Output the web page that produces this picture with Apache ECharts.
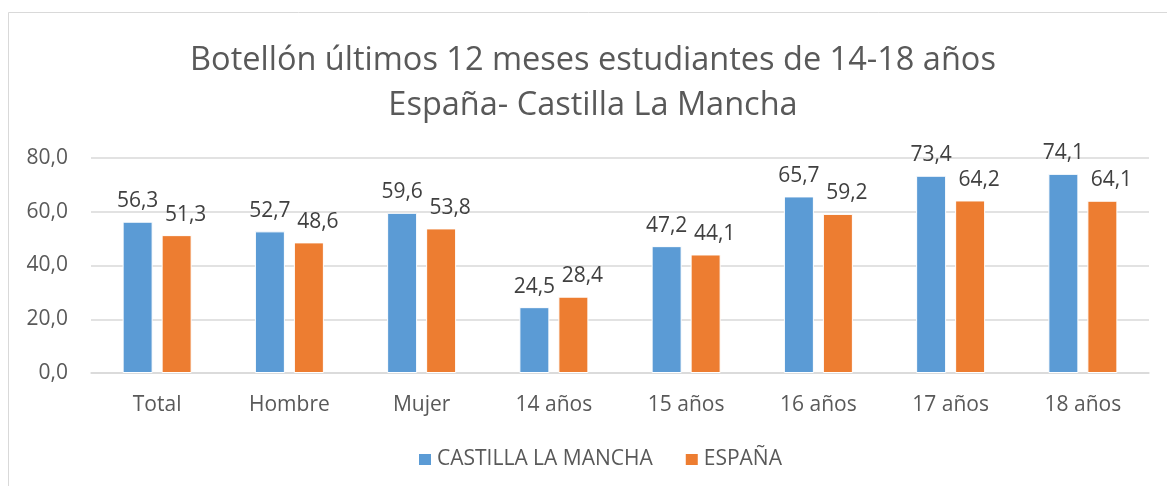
<!DOCTYPE html>
<html><head><meta charset="utf-8">
<script src="https://cdn.jsdelivr.net/npm/echarts@6/dist/echarts.min.js"></script>
<style>html,body{margin:0;padding:0;background:#fff}#c{width:1167px;height:486px}</style>
</head><body><div id="c"></div>
<script>
const categories = ['Total','Hombre','Mujer','14 años','15 años','16 años','17 años','18 años'];
const castillaLaMancha = [56.3,52.7,59.6,24.5,47.2,65.7,73.4,74.1];
const espana = [51.3,48.6,53.8,28.4,44.1,59.2,64.2,64.1];
const seriesNames = ['CASTILLA LA MANCHA','ESPAÑA'];
const titleLines = ['Botellón últimos 12 meses estudiantes de 14-18 años','España- Castilla La Mancha'];

const FONT = 'Open Sans';
const FS = 21;
const fmt = v => v.toFixed(1).replace('.', ',');
const chart = echarts.init(document.getElementById('c'), null, {renderer:'canvas'});
chart.setOption({
  animation:false,
  backgroundColor:'#fff',
  graphic:[{type:'rect',shape:{x:8.5,y:12.5,width:1170,height:500},style:{fill:'none',stroke:'#d9d9d9',lineWidth:1},silent:true}],
  title:{text:titleLines.join('\n'),left:593,textAlign:'center',top:38,padding:0,
    textStyle:{fontFamily:FONT,fontSize:32.5,fontWeight:'normal',color:'#595959',lineHeight:45}},
  legend:{data:seriesNames,bottom:16,left:417,itemWidth:14,itemHeight:13,itemGap:31,icon:'rect',padding:0,
    textStyle:{fontFamily:FONT,fontSize:FS,color:'#595959'}},
  grid:{left:91,right:18,top:158,bottom:113,containLabel:false},
  xAxis:{type:'category',data:categories,
    axisLine:{lineStyle:{color:'#d9d9d9',width:1.5}},axisTick:{show:false},
    axisLabel:{fontFamily:FONT,fontSize:FS,color:'#595959',margin:22}},
  yAxis:{type:'value',min:0,max:80,interval:20,
    axisLine:{show:false},axisTick:{show:false},
    splitLine:{lineStyle:{color:'#d9d9d9',width:1.5}},
    axisLabel:{fontFamily:FONT,fontSize:FS,color:'#595959',margin:23,formatter:v=>fmt(v)}},
  series:[
    {name:seriesNames[0],type:'bar',data:castillaLaMancha,barWidth:30,barGap:'30%',
     itemStyle:{color:'#5b9bd5',borderColor:'#fff',borderWidth:1},
     label:{show:true,position:'top',distance:10,formatter:p=>fmt(p.value),fontFamily:FONT,fontSize:FS,color:'#404040'}},
    {name:seriesNames[1],type:'bar',data:espana,barWidth:30,
     itemStyle:{color:'#ed7d31',borderColor:'#fff',borderWidth:1},
     label:{show:true,position:'top',distance:10,offset:[9,0],formatter:p=>fmt(p.value),fontFamily:FONT,fontSize:FS,color:'#404040'}}
  ]
});
</script></body></html>
